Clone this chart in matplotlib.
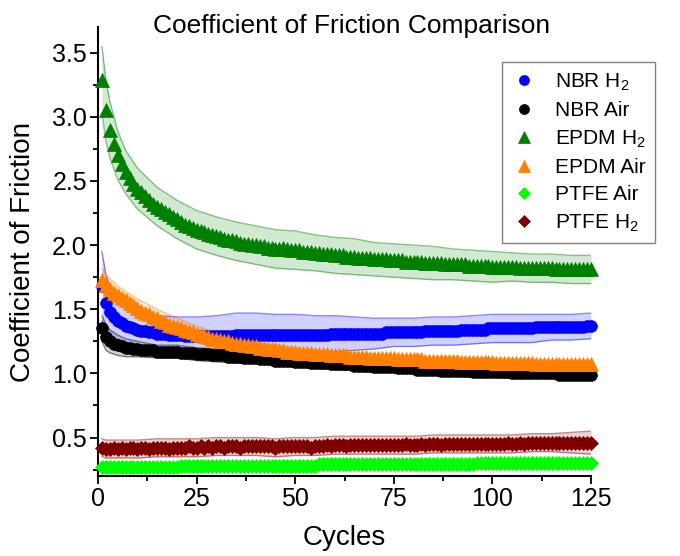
import numpy as np
import matplotlib
matplotlib.use('Agg')
import matplotlib.pyplot as plt

plt.rcParams['font.family'] = ['Liberation Sans', 'DejaVu Sans']
plt.rcParams['mathtext.default'] = 'regular'

# mean coefficient of friction for cycles 1..125
nbr_h2 = [1.68, 1.55, 1.48, 1.44, 1.41, 1.39, 1.37, 1.36, 1.35, 1.34,
          1.33, 1.33, 1.32, 1.32, 1.31, 1.31, 1.31, 1.30, 1.30, 1.30,
          1.30, 1.29, 1.29, 1.29, 1.29, 1.29, 1.29, 1.29, 1.29, 1.29,
          1.29, 1.29, 1.29, 1.29, 1.30, 1.30, 1.30, 1.30, 1.30, 1.30,
          1.30, 1.30, 1.30, 1.30, 1.30, 1.30, 1.30, 1.30, 1.30, 1.30,
          1.30, 1.30, 1.30, 1.30, 1.30, 1.30, 1.30, 1.30, 1.31, 1.31,
          1.31, 1.31, 1.31, 1.31, 1.31, 1.31, 1.31, 1.31, 1.31, 1.31,
          1.31, 1.31, 1.32, 1.32, 1.32, 1.32, 1.32, 1.32, 1.32, 1.32,
          1.32, 1.32, 1.33, 1.33, 1.33, 1.33, 1.33, 1.33, 1.33, 1.33,
          1.33, 1.34, 1.34, 1.34, 1.34, 1.34, 1.34, 1.34, 1.35, 1.35,
          1.35, 1.35, 1.35, 1.35, 1.35, 1.35, 1.35, 1.35, 1.35, 1.35,
          1.36, 1.36, 1.36, 1.36, 1.36, 1.36, 1.36, 1.36, 1.36, 1.36,
          1.36, 1.36, 1.36, 1.37, 1.37]
nbr_air = [1.35, 1.28, 1.25, 1.23, 1.22, 1.21, 1.20, 1.20, 1.19, 1.19,
           1.18, 1.18, 1.18, 1.18, 1.17, 1.17, 1.17, 1.17, 1.17, 1.17,
           1.16, 1.16, 1.16, 1.16, 1.15, 1.15, 1.15, 1.15, 1.14, 1.14,
           1.14, 1.14, 1.13, 1.13, 1.13, 1.13, 1.12, 1.12, 1.12, 1.12,
           1.11, 1.11, 1.11, 1.11, 1.10, 1.10, 1.10, 1.10, 1.10, 1.09,
           1.09, 1.09, 1.09, 1.08, 1.08, 1.08, 1.08, 1.08, 1.07, 1.07,
           1.07, 1.07, 1.07, 1.07, 1.06, 1.06, 1.06, 1.06, 1.06, 1.05,
           1.05, 1.05, 1.05, 1.05, 1.05, 1.04, 1.04, 1.04, 1.04, 1.04,
           1.03, 1.03, 1.03, 1.03, 1.03, 1.03, 1.02, 1.02, 1.02, 1.02,
           1.02, 1.02, 1.02, 1.02, 1.01, 1.01, 1.01, 1.01, 1.01, 1.01,
           1.01, 1.01, 1.01, 1.01, 1.00, 1.00, 1.00, 1.00, 1.00, 1.00,
           1.00, 1.00, 1.00, 1.00, 1.00, 1.00, 0.99, 0.99, 0.99, 0.99,
           0.99, 0.99, 0.99, 0.99, 0.99]
epdm_h2 = [3.29, 3.05, 2.90, 2.79, 2.70, 2.63, 2.57, 2.52, 2.48, 2.44,
           2.41, 2.38, 2.35, 2.32, 2.30, 2.28, 2.26, 2.24, 2.22, 2.20,
           2.18, 2.16, 2.15, 2.13, 2.12, 2.11, 2.10, 2.09, 2.08, 2.07,
           2.06, 2.05, 2.04, 2.04, 2.03, 2.02, 2.01, 2.01, 2.00, 2.00,
           1.99, 1.99, 1.98, 1.98, 1.97, 1.97, 1.98, 1.97, 1.96, 1.96,
           1.96, 1.95, 1.95, 1.95, 1.94, 1.94, 1.93, 1.93, 1.93, 1.92,
           1.92, 1.92, 1.91, 1.91, 1.91, 1.90, 1.90, 1.90, 1.90, 1.89,
           1.89, 1.89, 1.89, 1.88, 1.88, 1.88, 1.88, 1.87, 1.87, 1.87,
           1.87, 1.87, 1.86, 1.86, 1.86, 1.86, 1.86, 1.85, 1.85, 1.85,
           1.85, 1.85, 1.85, 1.84, 1.84, 1.84, 1.84, 1.84, 1.84, 1.83,
           1.83, 1.83, 1.83, 1.83, 1.83, 1.83, 1.82, 1.82, 1.82, 1.82,
           1.82, 1.82, 1.82, 1.82, 1.82, 1.81, 1.81, 1.81, 1.81, 1.81,
           1.81, 1.81, 1.81, 1.81, 1.81]
epdm_air = [1.73, 1.69, 1.66, 1.63, 1.61, 1.59, 1.57, 1.55, 1.53, 1.51,
            1.49, 1.47, 1.46, 1.44, 1.43, 1.41, 1.40, 1.38, 1.37, 1.36,
            1.35, 1.34, 1.33, 1.32, 1.31, 1.30, 1.29, 1.28, 1.27, 1.27,
            1.26, 1.25, 1.25, 1.24, 1.23, 1.23, 1.22, 1.22, 1.21, 1.21,
            1.20, 1.20, 1.19, 1.19, 1.19, 1.18, 1.18, 1.17, 1.17, 1.17,
            1.16, 1.16, 1.16, 1.16, 1.15, 1.15, 1.15, 1.15, 1.14, 1.14,
            1.14, 1.14, 1.14, 1.13, 1.13, 1.13, 1.13, 1.13, 1.12, 1.12,
            1.12, 1.12, 1.12, 1.12, 1.12, 1.11, 1.11, 1.11, 1.11, 1.11,
            1.11, 1.11, 1.10, 1.10, 1.10, 1.10, 1.10, 1.10, 1.10, 1.10,
            1.10, 1.09, 1.09, 1.09, 1.09, 1.09, 1.09, 1.09, 1.09, 1.09,
            1.08, 1.08, 1.08, 1.08, 1.08, 1.08, 1.08, 1.08, 1.08, 1.08,
            1.07, 1.07, 1.07, 1.07, 1.07, 1.07, 1.07, 1.07, 1.07, 1.07,
            1.07, 1.07, 1.07, 1.07, 1.07]
ptfe_air = [0.27, 0.27, 0.27, 0.27, 0.27, 0.27, 0.27, 0.27, 0.27, 0.27,
            0.27, 0.27, 0.27, 0.27, 0.27, 0.27, 0.27, 0.27, 0.27, 0.27,
            0.28, 0.28, 0.28, 0.28, 0.28, 0.28, 0.28, 0.28, 0.28, 0.28,
            0.28, 0.28, 0.28, 0.28, 0.28, 0.28, 0.28, 0.28, 0.28, 0.28,
            0.28, 0.28, 0.28, 0.28, 0.28, 0.28, 0.28, 0.28, 0.28, 0.28,
            0.28, 0.28, 0.28, 0.28, 0.28, 0.29, 0.29, 0.29, 0.29, 0.29,
            0.29, 0.29, 0.29, 0.29, 0.29, 0.29, 0.29, 0.29, 0.29, 0.29,
            0.29, 0.29, 0.29, 0.29, 0.29, 0.29, 0.29, 0.29, 0.29, 0.29,
            0.29, 0.29, 0.29, 0.29, 0.29, 0.29, 0.29, 0.29, 0.29, 0.29,
            0.29, 0.29, 0.29, 0.29, 0.29, 0.30, 0.30, 0.30, 0.30, 0.30,
            0.30, 0.30, 0.30, 0.30, 0.30, 0.30, 0.30, 0.30, 0.30, 0.30,
            0.30, 0.30, 0.30, 0.30, 0.30, 0.30, 0.30, 0.30, 0.30, 0.30,
            0.30, 0.30, 0.30, 0.30, 0.30]
ptfe_h2 = [0.42, 0.41, 0.41, 0.42, 0.41, 0.42, 0.41, 0.42, 0.42, 0.41,
           0.42, 0.42, 0.41, 0.42, 0.42, 0.42, 0.42, 0.41, 0.42, 0.42,
           0.42, 0.42, 0.43, 0.42, 0.42, 0.43, 0.42, 0.43, 0.42, 0.43,
           0.43, 0.42, 0.43, 0.43, 0.43, 0.42, 0.43, 0.43, 0.43, 0.43,
           0.43, 0.43, 0.43, 0.43, 0.42, 0.43, 0.43, 0.43, 0.43, 0.43,
           0.43, 0.43, 0.43, 0.42, 0.43, 0.43, 0.43, 0.44, 0.43, 0.44,
           0.44, 0.44, 0.43, 0.44, 0.44, 0.44, 0.44, 0.44, 0.44, 0.44,
           0.44, 0.44, 0.44, 0.44, 0.44, 0.44, 0.44, 0.45, 0.44, 0.44,
           0.44, 0.45, 0.44, 0.45, 0.45, 0.45, 0.44, 0.45, 0.45, 0.45,
           0.45, 0.45, 0.45, 0.45, 0.45, 0.45, 0.45, 0.45, 0.45, 0.45,
           0.45, 0.45, 0.45, 0.46, 0.45, 0.45, 0.46, 0.45, 0.46, 0.46,
           0.46, 0.46, 0.46, 0.46, 0.46, 0.46, 0.46, 0.46, 0.46, 0.46,
           0.46, 0.46, 0.46, 0.46, 0.46]

# standard deviation bands, read at these cycles
band_cycles = [1, 2, 3, 5, 7, 10, 15, 20, 25, 30, 35, 40, 45, 50, 55, 60, 65,
               70, 75, 80, 85, 90, 95, 100, 105, 110, 115, 120, 125]
nbr_h2_sd = [0.27, 0.22, 0.20, 0.18, 0.16, 0.15, 0.14, 0.14, 0.15, 0.16, 0.17,
             0.17, 0.16, 0.16, 0.15, 0.14, 0.13, 0.12, 0.11, 0.11, 0.11, 0.11,
             0.11, 0.11, 0.11, 0.11, 0.10, 0.10, 0.10]
nbr_air_sd = [0.10, 0.10, 0.09, 0.08, 0.07, 0.06, 0.05, 0.05, 0.05, 0.05, 0.05,
              0.04, 0.04, 0.04, 0.04, 0.04, 0.04, 0.04, 0.04, 0.04, 0.04, 0.04,
              0.04, 0.04, 0.04, 0.04, 0.04, 0.04, 0.04]
epdm_h2_sd = [0.26, 0.24, 0.22, 0.19, 0.17, 0.16, 0.15, 0.15, 0.15, 0.15, 0.15,
              0.15, 0.15, 0.15, 0.14, 0.14, 0.14, 0.13, 0.13, 0.13, 0.13, 0.12,
              0.12, 0.12, 0.11, 0.11, 0.11, 0.11, 0.11]
epdm_air_sd = [0.09, 0.08, 0.08, 0.07, 0.07, 0.07, 0.07, 0.07, 0.06, 0.05, 0.04,
               0.03, 0.03, 0.03, 0.03, 0.03, 0.03, 0.03, 0.03, 0.03, 0.03, 0.03,
               0.03, 0.03, 0.03, 0.03, 0.03, 0.03, 0.03]
ptfe_air_sd = [0.01, 0.01, 0.01, 0.01, 0.01, 0.01, 0.01, 0.01, 0.01, 0.01, 0.01,
               0.01, 0.01, 0.01, 0.01, 0.01, 0.01, 0.01, 0.01, 0.01, 0.01, 0.01,
               0.01, 0.01, 0.01, 0.01, 0.01, 0.01, 0.01]
ptfe_h2_sd = [0.07, 0.07, 0.07, 0.07, 0.07, 0.07, 0.07, 0.07, 0.07, 0.07, 0.07,
              0.07, 0.07, 0.07, 0.07, 0.07, 0.07, 0.07, 0.07, 0.07, 0.07, 0.07,
              0.07, 0.07, 0.07, 0.07, 0.07, 0.08, 0.09]

cycles = np.arange(1, len(nbr_h2) + 1)

series = [
    ('NBR H$_2$', nbr_h2, nbr_h2_sd, '#0000ff', 'o', 8.5),
    ('NBR Air', nbr_air, nbr_air_sd, '#000000', 'o', 8.5),
    ('EPDM H$_2$', epdm_h2, epdm_h2_sd, '#008000', '^', 10),
    ('EPDM Air', epdm_air, epdm_air_sd, '#ff8000', '^', 10),
    ('PTFE Air', ptfe_air, ptfe_air_sd, '#00ff00', 'D', 7),
    ('PTFE H$_2$', ptfe_h2, ptfe_h2_sd, '#800000', 'D', 7),
]

fig = plt.figure(figsize=(6.8, 5.56), dpi=100)
ax = fig.add_axes([98/680, 80/556, 493/680, 449/556])

bc = np.array(band_cycles)
for name, mean, sd, col, mk, ms in series:
    m = np.array(mean)[bc - 1]
    s = np.array(sd)
    ax.fill_between(bc, m - s, m + s, color=col, alpha=0.18, lw=0, zorder=1)
    ax.plot(bc, m + s, color=col, alpha=0.45, lw=1.0, zorder=2)
    ax.plot(bc, m - s, color=col, alpha=0.45, lw=1.0, zorder=2)

for name, mean, sd, col, mk, ms in series:
    ax.plot(cycles, mean, ls='none', marker=mk, ms=ms, color=col,
            mec=col, mew=0.5, label=name, zorder=3, clip_on=False)

ax.set_xlim(0, 125)
ax.set_ylim(0.2, 3.7)
ax.set_xticks([0, 25, 50, 75, 100, 125])
ax.set_xticks(np.arange(12.5, 125, 25), minor=True)
ax.set_yticks([0.5, 1.0, 1.5, 2.0, 2.5, 3.0, 3.5])
ax.set_yticks([0.25, 0.75, 1.25, 1.75, 2.25, 2.75, 3.25], minor=True)
ax.tick_params(which='major', direction='out', length=6, width=1.3,
               labelsize=18, pad=2)
ax.tick_params(which='minor', direction='out', length=3.5, width=1.3)
for sp in ['top', 'right']:
    ax.spines[sp].set_visible(False)
for sp in ['left', 'bottom']:
    ax.spines[sp].set_linewidth(1.5)

ax.set_xlabel('Cycles', fontsize=20)
ax.xaxis.set_label_coords(0.5, -0.11)
ax.set_ylabel('Coefficient of Friction', fontsize=20)
ax.yaxis.set_label_coords(-0.125, 0.5)

fig.text(352/680, 1 - 33/556, 'Coefficient of Friction Comparison',
         fontsize=19, ha='center', va='baseline')

leg = ax.legend(loc='upper right', bbox_to_anchor=(655/680, 1 - 62/556),
                bbox_transform=fig.transFigure, fontsize=15, frameon=True,
                fancybox=False, edgecolor='#808080', framealpha=1,
                handlelength=1.2, handletextpad=0.9, labelspacing=0.4,
                borderpad=0.45, borderaxespad=0, markerscale=0.85)
leg.get_frame().set_linewidth(1.0)

plt.savefig('out.png', dpi=100)
